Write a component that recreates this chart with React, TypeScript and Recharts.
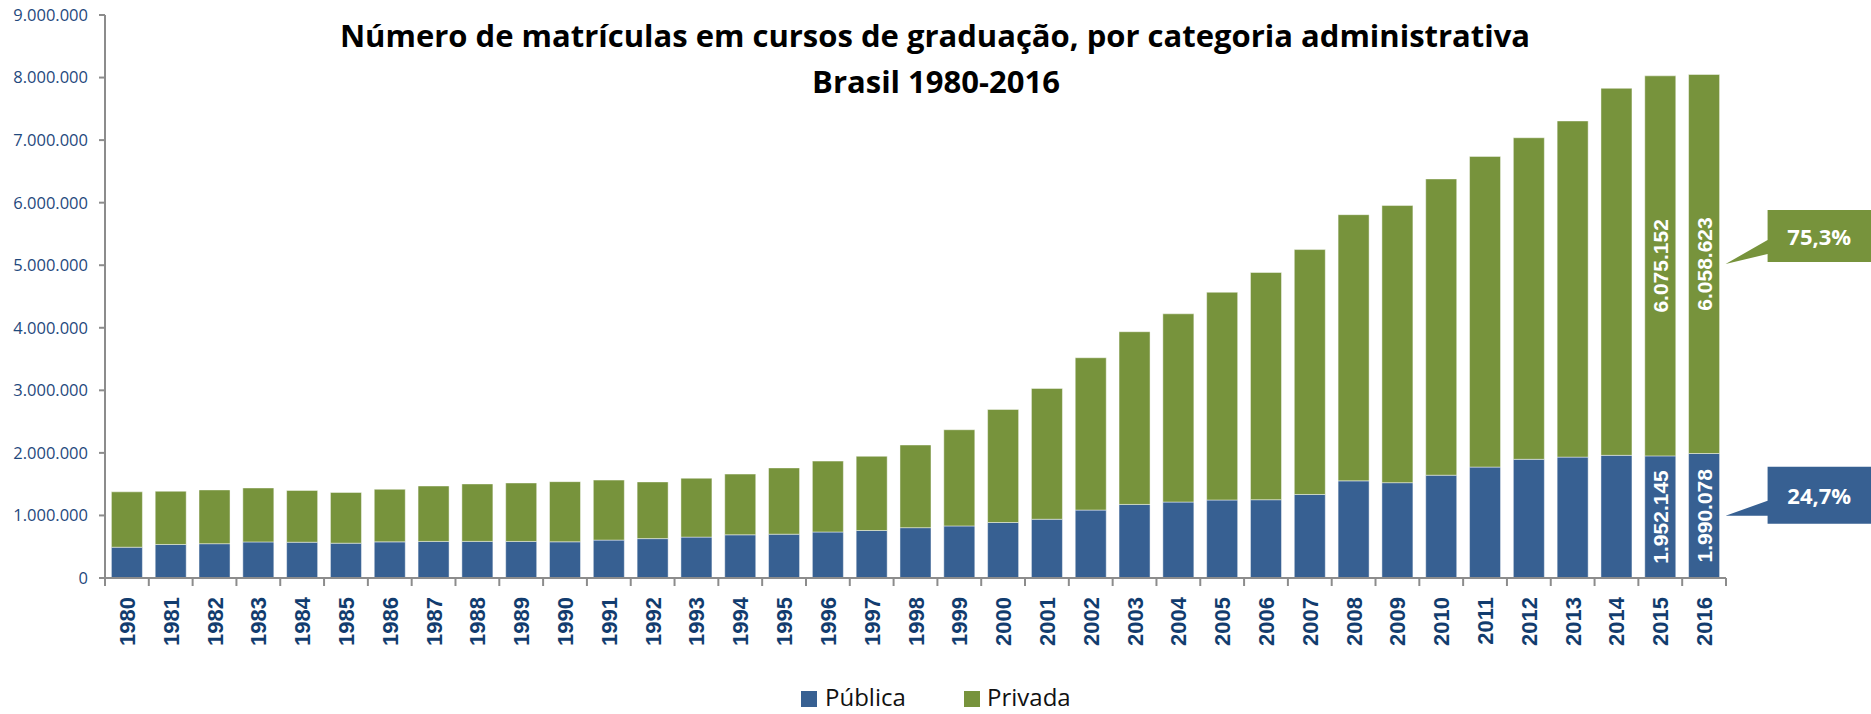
import React from "react";
import { BarChart, Bar, XAxis, YAxis, Rectangle } from "recharts";

const W = 1871;
const H = 714;

const BLUE = "#376092";
const GREEN = "#77933C";

// matrículas por ano (presencial + EAD)
const years = [
  "1980", "1981", "1982", "1983", "1984", "1985", "1986", "1987", "1988", "1989",
  "1990", "1991", "1992", "1993", "1994", "1995", "1996", "1997", "1998", "1999",
  "2000", "2001", "2002", "2003", "2004", "2005", "2006", "2007", "2008", "2009",
  "2010", "2011", "2012", "2013", "2014", "2015", "2016",
];

const publica = [
  492232, 535810, 548388, 576689, 571879, 556680, 577632, 584965, 585351, 584414,
  578625, 605736, 629662, 653516, 690450, 700540, 735427, 759182, 804729, 832022,
  887026, 939225, 1085977, 1176174, 1214317, 1246704, 1251365, 1335177, 1552953, 1523864,
  1643298, 1773315, 1897376, 1932527, 1961002, 1952145, 1990078,
];

const privada = [
  885054, 850982, 859599, 862303, 827660, 810929, 840564, 885590, 918204, 934490,
  961455, 959320, 906126, 941152, 970584, 1059163, 1133102, 1186433, 1321229, 1537923,
  1807219, 2091529, 2434650, 2760759, 3009027, 3321094, 3632487, 3914970, 4255064, 4430157,
  4736001, 4966374, 5140312, 5373450, 5867011, 6075152, 6058623,
];

const yTicks = [0, 1000000, 2000000, 3000000, 4000000, 5000000, 6000000, 7000000, 8000000, 9000000];

// anos com rótulo de valor dentro da barra
const labeledYears = ["2015", "2016"];

const data = years.map((year, i) => ({ year, publica: publica[i], privada: privada[i] }));

const last = years.length - 1;
const totalLast = publica[last] + privada[last];
const pct = (v: number) => ((v / totalLast) * 100).toFixed(1).replace(".", ",") + "%";

function fmt(n: number): string {
  return String(Math.round(n)).replace(/\B(?=(\d{3})+(?!\d))/g, ".");
}

function YearTick(props: any) {
  const { x, y, payload, index } = props;
  const half = payload && payload.offset ? payload.offset : (W - 145 - 105) / years.length / 2;
  return (
    <g>
      <line x1={x - half} x2={x - half} y1={y} y2={y + 8} stroke="#8c8c8c" strokeWidth={2} />
      {index === years.length - 1 && (
        <line x1={x + half} x2={x + half} y1={y} y2={y + 8} stroke="#8c8c8c" strokeWidth={2} />
      )}
      <text
        transform={`translate(${x + 8},${y + 19}) rotate(-90)`}
        textAnchor="end"
        fill="#123C6E"
        fontFamily="'Liberation Sans', Arial, sans-serif"
        fontWeight="bold"
        fontSize={22}
      >
        {payload.value}
      </text>
    </g>
  );
}

function makeShape(kind: "publica" | "privada") {
  return function BarShape(props: any) {
    const { x, y, width, height, fill, payload } = props;
    const showLabel = labeledYears.includes(payload.year);
    const isLast = payload.year === years[last];
    const cx = x + width / 2;
    const cy = y + height / 2;

    let callout = null;
    if (isLast) {
      const tipX = x + width + 6;
      const tipY = cy;
      const boxL = x + width + 48;
      const boxR = W;
      const top = kind === "privada" ? tipY - 54 : tipY - 49;
      const bottom = kind === "privada" ? tipY - 2 : tipY + 8;
      const b1 = kind === "privada" ? tipY - 24 : tipY - 15;
      const b2 = kind === "privada" ? tipY - 10 : tipY;
      const pts = [
        [boxL, top], [boxR, top], [boxR, bottom], [boxL, bottom],
        [boxL, b2], [tipX, tipY], [boxL, b1],
      ].map((p) => p.join(",")).join(" ");
      callout = (
        <g>
          <polygon points={pts} fill={fill} />
          <text
            x={(boxL + boxR) / 2}
            y={(top + bottom) / 2}
            textAnchor="middle"
            dominantBaseline="central"
            fill="#fff"
            fontFamily="'Open Sans', sans-serif"
            fontWeight="bold"
            fontSize={22}
          >
            {pct(payload[kind])}
          </text>
        </g>
      );
    }

    return (
      <g>
        <Rectangle x={x} y={y} width={width} height={height} fill={fill} stroke="rgba(255,255,255,0.45)" strokeWidth={1} />
        {showLabel && (
          <text
            transform={`translate(${cx},${cy}) rotate(-90)`}
            textAnchor="middle"
            dominantBaseline="central"
            fill="#fff"
            fontFamily="'Liberation Sans', Arial, sans-serif"
            fontWeight="bold"
            fontSize={21}
          >
            {fmt(payload[kind])}
          </text>
        )}
        {callout}
      </g>
    );
  };
}

const PublicaShape = makeShape("publica");
const PrivadaShape = makeShape("privada");

export default function App() {
  return (
    <div style={{ position: "absolute", left: 0, top: 0, width: W, height: H, background: "#fff" }}>
      <BarChart
        width={W}
        height={H}
        data={data}
        margin={{ top: 15, right: 145, bottom: 0, left: 0 }}
        barCategoryGap="14.6%"
      >
        <XAxis
          dataKey="year"
          height={136}
          interval={0}
          tickSize={0}
          tickMargin={0}
          tickLine={false}
          axisLine={{ stroke: "#8c8c8c", strokeWidth: 2 }}
          tick={<YearTick />}
        />
        <YAxis
          width={105}
          domain={[0, 9000000]}
          ticks={yTicks}
          interval={0}
          tickSize={6}
          tickMargin={11}
          tickFormatter={fmt}
          axisLine={{ stroke: "#8c8c8c", strokeWidth: 2 }}
          tickLine={{ stroke: "#8c8c8c", strokeWidth: 2 }}
          tick={{ fill: "#1F497D", fontSize: 16.5, fontFamily: "'Open Sans', sans-serif" }}
        />
        <Bar dataKey="publica" stackId="a" fill={BLUE} shape={<PublicaShape />} isAnimationActive={false} />
        <Bar dataKey="privada" stackId="a" fill={GREEN} shape={<PrivadaShape />} isAnimationActive={false} />
      </BarChart>

      <svg
        width={W}
        height={H}
        style={{ position: "absolute", left: 0, top: 0, pointerEvents: "none" }}
      >
        <text x={935} y={47} textAnchor="middle" fontFamily="'Open Sans', sans-serif" fontWeight="bold" fontSize={31} fill="#000">
          Número de matrículas em cursos de graduação, por categoria administrativa
        </text>
        <text x={936} y={93} textAnchor="middle" fontFamily="'Open Sans', sans-serif" fontWeight="bold" fontSize={31} fill="#000">
          Brasil 1980-2016
        </text>

        <rect x={801} y={691} width={16} height={16} fill={BLUE} />
        <text x={825} y={706} fontFamily="'Open Sans', sans-serif" fontSize={24} fill="#111">
          Pública
        </text>
        <rect x={964} y={691} width={16} height={16} fill={GREEN} />
        <text x={987} y={706} fontFamily="'Open Sans', sans-serif" fontSize={24} fill="#111">
          Privada
        </text>
      </svg>
    </div>
  );
}
